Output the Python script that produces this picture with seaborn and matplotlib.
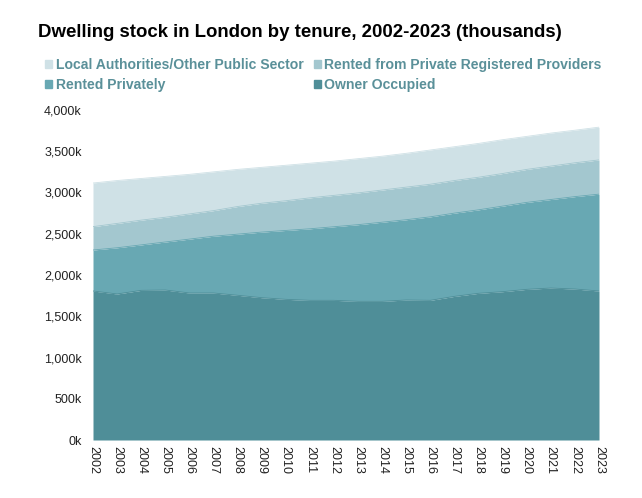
import matplotlib
matplotlib.use("Agg")
import matplotlib.pyplot as plt
import matplotlib.ticker as mticker
from matplotlib.patches import Patch
import seaborn as sns
import pandas as pd
import numpy as np

years = list(range(2002, 2024))
owner_occupied = [1806, 1770, 1814, 1818, 1782, 1782, 1754, 1725, 1705, 1693, 1693,
                  1681, 1681, 1697, 1693, 1741, 1778, 1798, 1826, 1842, 1830, 1806]
rented_privately = [497, 560, 551, 582, 653, 688, 741, 795, 835, 867, 892,
                    929, 959, 973, 1012, 1009, 1012, 1037, 1054, 1073, 1120, 1174]
rented_prp = [283, 295, 300, 300, 305, 310, 335, 350, 360, 375, 380,
              385, 390, 395, 395, 395, 395, 395, 400, 405, 410, 415]
local_authority = [529, 520, 505, 495, 480, 470, 450, 435, 430, 420, 415,
                   415, 410, 410, 415, 410, 410, 410, 400, 400, 395, 397]

series_names = ["Owner Occupied", "Rented Privately",
                "Rented from Private Registered Providers",
                "Local Authorities/Other Public Sector"]
colors = ["#4f8e98", "#68a8b3", "#a3c7cf", "#cfe1e6"]

sns.set_theme(style="white")
plt.rcParams['font.family'] = ['Liberation Sans', 'DejaVu Sans']

df = pd.DataFrame({"year": years,
                   series_names[0]: owner_occupied,
                   series_names[1]: rented_privately,
                   series_names[2]: rented_prp,
                   series_names[3]: local_authority})
cum = df[series_names].cumsum(axis=1)

fig = plt.figure(figsize=(6.42, 4.98), dpi=100)
ax = fig.add_axes([93/642, 1-440/498, (599-93)/642, (440-110)/498])

prev = np.zeros(len(years))
for name, col in zip(series_names, colors):
    top = cum[name].values
    ax.fill_between(df["year"], prev, top, color=col, linewidth=0)
    sns.lineplot(x=df["year"], y=top, ax=ax, color=col, linewidth=0.6)
    prev = top

ax.set_xlim(2002, 2023)
ax.set_ylim(0, 4000)
ax.set_xticks(years)
ax.set_xticklabels([str(y) for y in years], rotation=-90, fontsize=9, color="#222222")
ax.yaxis.set_major_locator(mticker.MultipleLocator(500))
ax.yaxis.set_major_formatter(mticker.FuncFormatter(lambda v, p: f"{int(v):,}k"))
ax.tick_params(axis='y', labelsize=9, labelcolor="#222222", length=0, pad=8)
ax.tick_params(axis='x', length=0, pad=4)
ax.set_xlabel("")
ax.set_ylabel("")
for s in ax.spines.values():
    s.set_visible(False)
ax.grid(False)

fig.text(38/642, 1-32.5/498, "Dwelling stock in London by tenure, 2002-2023 (thousands)",
         fontsize=13.4, fontweight="bold", color="black", va="center", ha="left")

handles = [Patch(color=colors[3]), Patch(color=colors[1]),
           Patch(color=colors[2]), Patch(color=colors[0])]
labels = [series_names[3], series_names[1], series_names[2], series_names[0]]
leg = fig.legend(handles, labels, ncol=2, loc="upper left",
                 bbox_to_anchor=(45/642, 1-58/498), frameon=False,
                 borderpad=0, borderaxespad=0,
                 handlelength=0.5, handleheight=0.5, handletextpad=0.28,
                 columnspacing=0.7, labelspacing=0.45,
                 prop={"weight": "bold", "size": 10.1})
for t in leg.get_texts():
    t.set_color("#5a9099")

fig.savefig("out.png", dpi=100)
